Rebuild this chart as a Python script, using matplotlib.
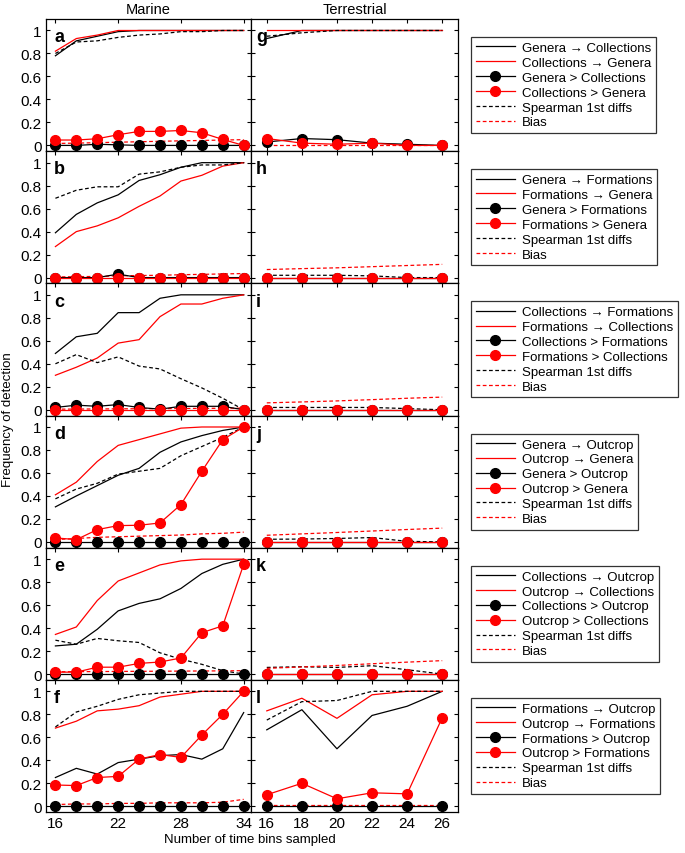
import numpy as np
import matplotlib
matplotlib.use('Agg')
import matplotlib.pyplot as plt
from matplotlib.lines import Line2D

plt.rcParams['font.family'] = ['Liberation Sans', 'DejaVu Sans']
plt.rcParams['font.size'] = 8

# x values (time bins sampled)
x_marine = [16, 18, 20, 22, 24, 26, 28, 30, 32, 34]
x_terr = [16, 18, 20, 22, 24, 26]

# legend names per row: (A, B)
pairs = [('Genera', 'Collections'), ('Genera', 'Formations'), ('Collections', 'Formations'),
         ('Genera', 'Outcrop'), ('Collections', 'Outcrop'), ('Formations', 'Outcrop')]
letters_marine = ['a', 'b', 'c', 'd', 'e', 'f']
letters_terr = ['g', 'h', 'i', 'j', 'k', 'l']

# MARINE data: A->B, B->A, A>B, B>A, spearman, bias
m_ab = [
    [0.78, 0.91, 0.95, 0.99, 1, 1, 1, 1, 1, 1],
    [0.39, 0.55, 0.65, 0.72, 0.845, 0.895, 0.96, 1, 1, 1],
    [0.49, 0.635, 0.665, 0.845, 0.845, 0.97, 1, 1, 1, 1],
    [0.305, 0.40, 0.49, 0.58, 0.64, 0.78, 0.87, 0.925, 0.97, 1],
    [0.245, 0.26, 0.39, 0.55, 0.615, 0.655, 0.745, 0.875, 0.955, 1],
    [0.25, 0.33, 0.28, 0.38, 0.41, 0.44, 0.45, 0.41, 0.50, 0.815],
]
m_ba = [
    [0.82, 0.93, 0.96, 1.0, 1, 1, 1, 1, 1, 1],
    [0.27, 0.40, 0.45, 0.52, 0.62, 0.71, 0.84, 0.89, 0.97, 1],
    [0.30, 0.37, 0.45, 0.58, 0.61, 0.81, 0.92, 0.92, 0.97, 1],
    [0.41, 0.52, 0.70, 0.84, 0.89, 0.94, 0.99, 1, 1, 1],
    [0.345, 0.41, 0.64, 0.81, 0.88, 0.95, 0.985, 1, 1, 1],
    [0.68, 0.74, 0.83, 0.845, 0.875, 0.95, 0.975, 1, 1, 1],
]
m_agtb = [
    [0, 0, 0.01, 0.005, 0, 0, 0, 0, 0, 0],
    [0, 0, 0, 0.03, 0, 0, 0, 0, 0, 0],
    [0.02, 0.04, 0.03, 0.045, 0.02, 0.005, 0.03, 0.03, 0.03, 0],
    [0, 0, 0, 0, 0, 0, 0, 0, 0, 0],
    [0, 0, 0, 0, 0, 0, 0, 0, 0, 0],
    [0, 0, 0, 0, 0, 0, 0, 0, 0, 0],
]
m_bgta = [
    [0.047, 0.047, 0.058, 0.093, 0.122, 0.122, 0.13, 0.11, 0.052, 0],
    [0, 0, 0, 0, 0, 0, 0, 0, 0, 0],
    [0, 0, 0, 0, 0, 0, 0, 0, 0, 0],
    [0.035, 0.02, 0.107, 0.142, 0.145, 0.165, 0.325, 0.615, 0.89, 1],
    [0.017, 0.017, 0.06, 0.06, 0.093, 0.105, 0.14, 0.36, 0.42, 0.955],
    [0.185, 0.18, 0.25, 0.26, 0.41, 0.45, 0.425, 0.62, 0.80, 1],
]
m_spear = [
    [0.80, 0.90, 0.91, 0.94, 0.96, 0.97, 0.99, 0.99, 1, 1],
    [0.69, 0.76, 0.79, 0.79, 0.90, 0.92, 0.96, 0.98, 0.98, 1],
    [0.40, 0.48, 0.41, 0.46, 0.38, 0.355, 0.27, 0.19, 0.10, 0],
    [0.375, 0.46, 0.51, 0.59, 0.615, 0.64, 0.75, 0.83, 0.91, 1],
    [0.295, 0.26, 0.31, 0.29, 0.275, 0.185, 0.13, 0.085, 0.03, 0],
    [0.69, 0.82, 0.87, 0.93, 0.97, 0.985, 1, 1, 1, 1],
]
m_bias = [
    [0.017, 0.02, 0.024, 0.028, 0.032, 0.036, 0.04, 0.043, 0.047, 0.05],
    [0.005, 0.008, 0.01, 0.015, 0.018, 0.02, 0.025, 0.028, 0.032, 0.035],
    [0.005, 0.006, 0.007, 0.008, 0.009, 0.01, 0.011, 0.012, 0.013, 0.014],
    [0.02, 0.03, 0.04, 0.045, 0.05, 0.055, 0.06, 0.07, 0.075, 0.085],
    [0.02, 0.021, 0.022, 0.023, 0.024, 0.025, 0.026, 0.027, 0.028, 0.03],
    [0.015, 0.02, 0.02, 0.025, 0.025, 0.03, 0.03, 0.03, 0.035, 0.06],
]

# TERRESTRIAL data (None = not available)
t_ab = [
    [0.93, 1, 1, 1, 1, 1],
    None, None, None, None,
    [0.665, 0.84, 0.50, 0.79, 0.87, 1],
]
t_ba = [
    [1, 1, 1, 1, 1, 1],
    None, None, None, None,
    [0.83, 0.94, 0.765, 0.97, 1, 1],
]
t_agtb = [
    [0.03, 0.06, 0.05, 0.02, 0.01, 0],
    [0, 0, 0, 0, 0, 0],
    [0, 0, 0, 0, 0, 0],
    [0, 0, 0, 0, 0, 0],
    [0, 0, 0, 0, 0, 0],
    [0, 0, 0, 0, 0, 0],
]
t_bgta = [
    [0.06, 0.02, 0.01, 0.02, 0, 0],
    [0, 0, 0, 0, 0, 0],
    [0, 0, 0, 0, 0, 0],
    [0, 0, 0, 0, 0, 0],
    [0, 0, 0, 0, 0, 0],
    [0.10, 0.20, 0.065, 0.117, 0.108, 0.77],
]
t_spear = [
    [0.95, 0.98, 1, 1, 1, 1],
    [0.02, 0.02, 0.02, 0.015, 0, 0],
    [0.02, 0.02, 0.02, 0.02, 0.01, 0],
    [0.023, 0.025, 0.03, 0.038, 0.005, 0],
    [0.058, 0.064, 0.058, 0.073, 0.038, 0],
    [0.75, 0.91, 0.92, 1, 1, 1],
]
t_bias = [
    [0.005, 0.005, 0.005, 0.005, 0.005, 0.005],
    [0.07, 0.078, 0.085, 0.095, 0.105, 0.115],
    [0.06, 0.068, 0.077, 0.088, 0.1, 0.11],
    [0.058, 0.07, 0.082, 0.095, 0.108, 0.12],
    [0.05, 0.062, 0.075, 0.09, 0.104, 0.117],
    [0.01, 0.01, 0.01, 0.01, 0.01, 0.01],
]

RED = '#ff0000'
W, H = 685, 854
fig = plt.figure(figsize=(W / 100, H / 100), dpi=100)

top_px, bot_px = 20, 813
row_h = (bot_px - top_px) / 6
ms = 7
lw = 0.9


def draw(ax, x, ab, ba, agtb, bgta, spear, bias):
    if ab is not None:
        ax.plot(x, ab, color='k', lw=lw)
    if ba is not None:
        ax.plot(x, ba, color=RED, lw=lw)
    ax.plot(x, spear, color='k', lw=lw, ls=(0, (3, 2)))
    ax.plot(x, bias, color=RED, lw=lw, ls=(0, (3, 2)))
    ax.plot(x, agtb, color='k', lw=lw, marker='o', ms=ms)
    ax.plot(x, bgta, color=RED, lw=lw, marker='o', ms=ms)


for i in range(6):
    y0 = 1 - (top_px + row_h * (i + 1)) / H
    hh = row_h / H
    axm = fig.add_axes([46 / W, y0, 205 / W, hh])
    axt = fig.add_axes([251 / W, y0, 207 / W, hh])

    draw(axm, x_marine, m_ab[i], m_ba[i], m_agtb[i], m_bgta[i], m_spear[i], m_bias[i])
    draw(axt, x_terr, t_ab[i], t_ba[i], t_agtb[i], t_bgta[i], t_spear[i], t_bias[i])

    axm.set_xlim(15.1, 34.7)
    axt.set_xlim(15.1, 26.9)
    axm.set_xticks([16, 22, 28, 34])
    axt.set_xticks(x_terr)
    for ax in (axm, axt):
        ax.set_ylim(-0.05, 1.1)
        ax.set_yticks([0, 0.2, 0.4, 0.6, 0.8, 1])
        ax.tick_params(direction='in', top=True, right=True, length=3, width=0.8,
                       labelsize=11, pad=3)
        for s in ax.spines.values():
            s.set_linewidth(0.9)
        if i < 5:
            ax.tick_params(labelbottom=False)
    axm.set_yticklabels(['0', '0.2', '0.4', '0.6', '0.8', '1'])
    axt.tick_params(labelleft=False)

    axm.text(0.04, 0.93, letters_marine[i], transform=axm.transAxes, fontsize=13,
             fontweight='bold', va='top', ha='left')
    axt.text(0.025, 0.93, letters_terr[i], transform=axt.transAxes, fontsize=13,
             fontweight='bold', va='top', ha='left')

    if i == 0:
        axm.set_title('Marine', fontsize=10.5, pad=4)
        axt.set_title('Terrestrial', fontsize=10.5, pad=4)

    a, b = pairs[i]
    handles = [
        Line2D([], [], color='k', lw=lw),
        Line2D([], [], color=RED, lw=lw),
        Line2D([], [], color='k', lw=lw, marker='o', ms=ms),
        Line2D([], [], color=RED, lw=lw, marker='o', ms=ms),
        Line2D([], [], color='k', lw=lw, ls=(0, (3, 2))),
        Line2D([], [], color=RED, lw=lw, ls=(0, (3, 2))),
    ]
    labels = [f'{a} \u2192 {b}', f'{b} \u2192 {a}', f'{a} > {b}', f'{b} > {a}',
              'Spearman 1st diffs', 'Bias']
    cy = 1 - (top_px + row_h * (i + 0.5)) / H
    leg = fig.legend(handles, labels, loc='center left', bbox_to_anchor=(471 / W, cy),
                     fontsize=9.5, frameon=True, fancybox=False, edgecolor='k',
                     handlelength=2.95, labelspacing=0.2, borderpad=0.35,
                     handletextpad=0.55, borderaxespad=0)
    leg.get_frame().set_linewidth(0.9)

fig.text(8 / W, 1 - 420 / H, 'Frequency of detection', rotation=90, va='center',
         ha='center', fontsize=9.5)
fig.text(250 / W, 1 - 840 / H, 'Number of time bins sampled', va='center',
         ha='center', fontsize=9.5)

fig.savefig('out.png', dpi=100)
